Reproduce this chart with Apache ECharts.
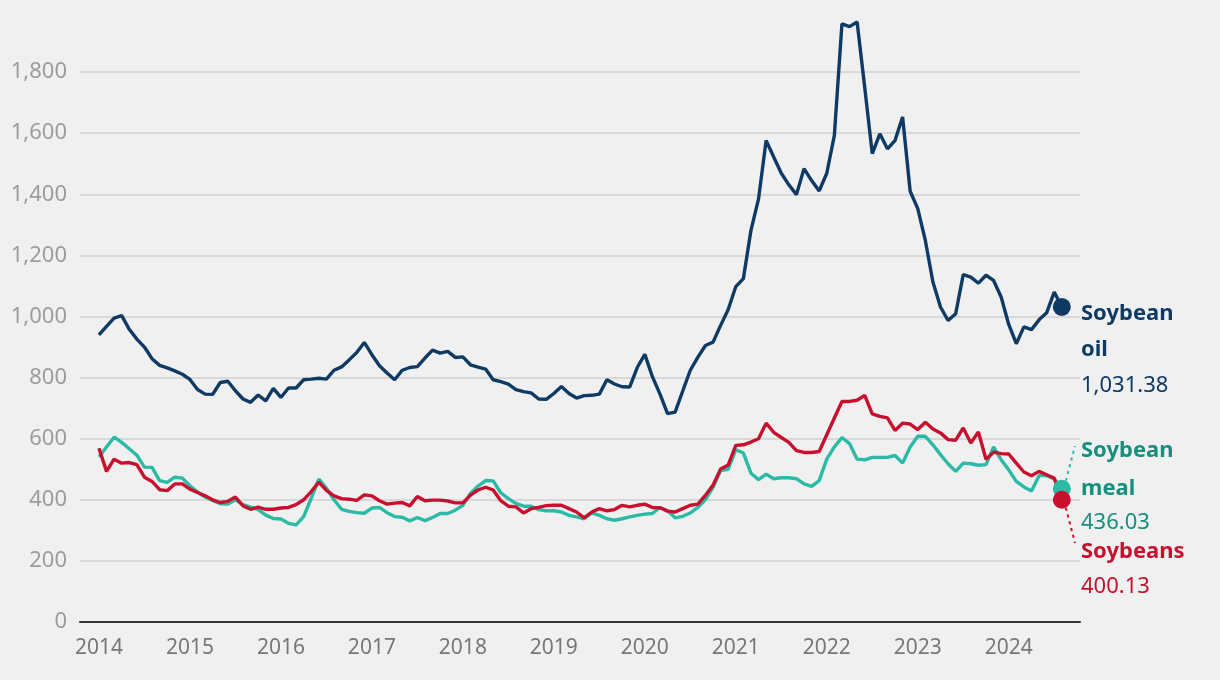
<!DOCTYPE html>
<html>
<head>
<meta charset="utf-8">
<script src="https://cdn.jsdelivr.net/npm/echarts@6/dist/echarts.min.js"></script>
<style>
  html, body { margin: 0; padding: 0; background: #f0f0f0; }
  #main { width: 1220px; height: 680px; }
</style>
</head>
<body>
<div id="main"></div>
<script>
// monthly prices, Jan 2014 .. Aug 2024 (index 0 = Jan 2014)
const yearLabels = ['2014', '2015', '2016', '2017', '2018', '2019', '2020', '2021', '2022', '2023', '2024'];

const soybeanOil = [
  940, 968, 995, 1003, 958, 926, 900, 862, 840, 832, 822, 811,
  794, 761, 746, 745, 784, 788, 757, 730, 719, 743, 724, 765,
  735, 766, 766, 793, 795, 798, 795, 824, 835, 858, 882, 915,
  875, 839, 815, 793, 824, 833, 836, 864, 890, 880, 886, 866,
  868, 842, 834, 828, 793, 787, 779, 761, 754, 750, 730, 729,
  748, 771, 748, 733, 741, 742, 746, 793, 779, 770, 769, 833,
  876, 803, 746, 682, 687, 756, 824, 867, 905, 916, 971, 1023,
  1098, 1124, 1282, 1385, 1576, 1522, 1469, 1431, 1399, 1484, 1445, 1411,
  1469, 1593, 1958, 1949, 1964, 1751, 1533, 1598, 1549, 1576, 1653, 1410,
  1353, 1249, 1113, 1031, 987, 1009, 1137, 1129, 1109, 1135, 1118, 1064,
  974, 911, 966, 957, 989, 1012, 1080, 1031.38
];

const soybeanMeal = [
  540, 573, 605, 588, 567, 546, 507, 506, 463, 457, 474, 471,
  446, 425, 409, 398, 387, 386, 400, 384, 376, 368, 350, 339,
  337, 323, 318, 345, 405, 468, 438, 400, 369, 362, 358, 356,
  373, 375, 358, 345, 343, 331, 342, 332, 342, 355, 355, 366,
  382, 421, 445, 463, 462, 423, 404, 388, 379, 379, 368, 364,
  364, 360, 349, 344, 338, 357, 349, 338, 333, 338, 344, 349,
  353, 355, 375, 364, 341, 346, 357, 375, 401, 441, 496, 500,
  564, 553, 487, 466, 484, 469, 472, 472, 469, 452, 444, 463,
  533, 573, 604, 584, 533, 531, 539, 539, 539, 545, 520, 573,
  608, 608, 580, 548, 518, 493, 520, 518, 513, 515, 573, 531,
  498, 460, 442, 429, 479, 479, 468, 436.03
];

const soybeans = [
  569, 493, 533, 520, 522, 515, 474, 460, 433, 430, 452, 452,
  435, 424, 413, 400, 391, 395, 409, 380, 369, 376, 369, 369,
  373, 375, 384, 400, 427, 458, 431, 413, 404, 402, 398, 416,
  413, 397, 386, 389, 391, 380, 411, 397, 399, 399, 396, 390,
  390, 415, 432, 441, 432, 397, 379, 377, 357, 371, 375, 381,
  382, 382, 371, 360, 341, 360, 371, 364, 368, 382, 377, 382,
  386, 375, 374, 363, 360, 371, 382, 386, 415, 448, 501, 514,
  578, 580, 589, 600, 651, 621, 604, 588, 561, 555, 555, 558,
  613, 668, 722, 722, 726, 742, 681, 673, 668, 627, 651, 648,
  630, 654, 632, 619, 597, 595, 635, 586, 622, 533, 556, 551,
  550, 520, 491, 479, 493, 482, 471, 400.13
];

const OIL = '#0e3a64';
const MEAL = '#2abaa6';
const MEAL_TEXT = '#168f7f';
const BEANS = '#c8102e';
const FONT = "'Source Sans Pro', 'Noto Sans', sans-serif";

function toPoints(arr) {
  return arr.map(function (v, i) { return [i, v]; });
}
function lastPoint(arr) {
  return [arr.length - 1, arr[arr.length - 1]];
}

let chart = echarts.init(document.getElementById('main'));
chart.setOption({
  animation: false,
  backgroundColor: '#f0f0f0',
  grid: { left: 80, right: 140, top: 11, bottom: 58 },
  xAxis: {
    type: 'value',
    min: -2.5,
    max: 129.4,
    splitLine: { show: false },
    axisTick: { show: false },
    axisLine: { show: true, onZero: false, lineStyle: { color: '#333', width: 2 } },
    axisLabel: {
      customValues: yearLabels.map(function (y, i) { return i * 12; }),
      formatter: function (v) { return yearLabels[Math.round(v / 12)]; },
      color: '#777',
      fontSize: 21,
      fontFamily: FONT,
      margin: 16
    }
  },
  yAxis: {
    type: 'value',
    min: 0,
    max: 2000,
    interval: 200,
    axisLine: { show: false },
    axisTick: { show: false },
    axisLabel: {
      showMaxLabel: false,
      formatter: function (v) { return v.toLocaleString('en-US'); },
      color: '#9c9c9c',
      fontSize: 22,
      fontFamily: FONT,
      margin: 13
    },
    splitLine: {
      showMaxLine: false,
      lineStyle: {
        color: ['#d8d8d8', '#d8d8d8', '#d8d8d8', '#d8d8d8', '#d8d8d8', '#d8d8d8',
                '#d8d8d8', '#d8d8d8', '#d8d8d8', '#d8d8d8', 'rgba(0,0,0,0)'],
        width: 2
      }
    }
  },
  series: [
    { name: 'Soybean oil', type: 'line', data: toPoints(soybeanOil), showSymbol: false,
      lineStyle: { color: OIL, width: 3.4 }, z: 3 },
    { name: 'Soybean meal', type: 'line', data: toPoints(soybeanMeal), showSymbol: false,
      lineStyle: { color: MEAL, width: 3.4 }, z: 2 },
    { name: 'Soybeans', type: 'line', data: toPoints(soybeans), showSymbol: false,
      lineStyle: { color: BEANS, width: 3.4 }, z: 4 },
    // end dots
    { type: 'scatter', data: [lastPoint(soybeanOil)], symbolSize: 18, itemStyle: { color: OIL, opacity: 1 }, z: 5 },
    { type: 'scatter', data: [lastPoint(soybeanMeal)], symbolSize: 18, itemStyle: { color: MEAL, opacity: 1 }, z: 5 },
    { type: 'scatter', data: [lastPoint(soybeans)], symbolSize: 18, itemStyle: { color: BEANS, opacity: 1 }, z: 6 }
  ]
});

// labels at the right, with dotted leaders from the end dots
let pMeal = chart.convertToPixel('grid', lastPoint(soybeanMeal));
let pBeans = chart.convertToPixel('grid', lastPoint(soybeans));

function txt(x, y, s, color, bold) {
  return {
    type: 'text', x: x, y: y, z: 10,
    style: { text: s, fill: color, font: (bold ? 'bold ' : '') + '22px ' + FONT, verticalAlign: 'middle' }
  };
}

chart.setOption({
  graphic: [
    { type: 'line', z: 1, shape: { x1: pMeal[0] + 4, y1: pMeal[1] - 8, x2: 1075, y2: 446 },
      style: { stroke: MEAL, lineWidth: 2, lineDash: [3, 4] } },
    { type: 'line', z: 1, shape: { x1: pBeans[0] + 4, y1: pBeans[1] + 8, x2: 1075, y2: 543 },
      style: { stroke: BEANS, lineWidth: 2, lineDash: [3, 4] } },
    txt(1081, 314, 'Soybean', OIL, true),
    txt(1081, 350, 'oil', OIL, true),
    txt(1081, 386, '1,031.38', OIL, false),
    txt(1081, 451, 'Soybean', MEAL_TEXT, true),
    txt(1081, 489, 'meal', MEAL_TEXT, true),
    txt(1081, 523, '436.03', MEAL_TEXT, false),
    txt(1081, 552, 'Soybeans', BEANS, true),
    txt(1081, 587, '400.13', BEANS, false)
  ]
});
</script>
</body>
</html>
